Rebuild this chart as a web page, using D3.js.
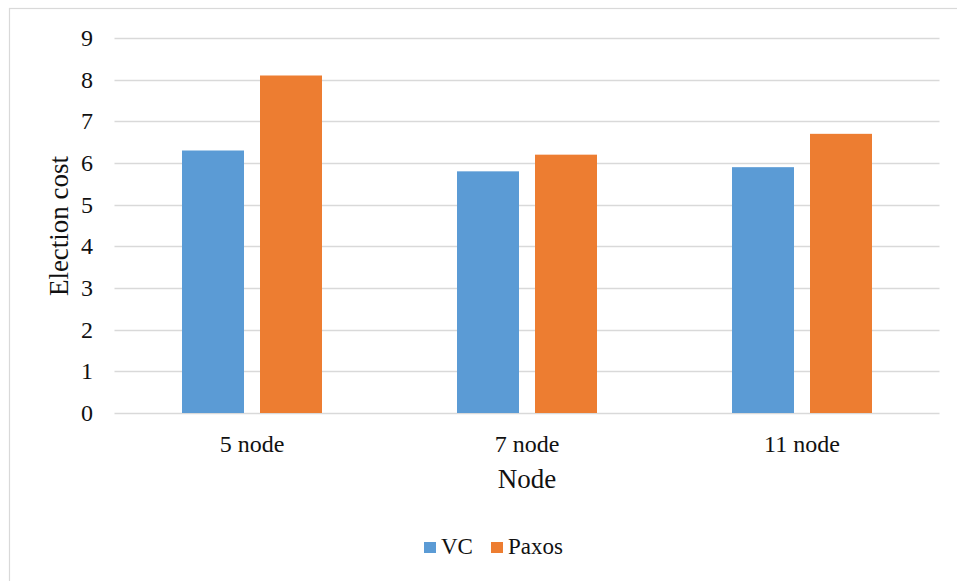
<!DOCTYPE html>
<html>
<head>
<meta charset="utf-8">
<script src="https://cdn.jsdelivr.net/npm/d3@7"></script>
<style>
  html, body { margin: 0; padding: 0; background: #fff; }
  svg { display: block; }
</style>
</head>
<body>
<svg id="chart" width="957" height="581"></svg>
<script>
const categories = ["5 node", "7 node", "11 node"];
const seriesNames = ["VC", "Paxos"];
const vcValues = [6.3, 5.8, 5.9];
const paxosValues = [8.1, 6.2, 6.7];
const yTicks = [0, 1, 2, 3, 4, 5, 6, 7, 8, 9];
const colors = ["#5b9bd5", "#ed7d31"];
const FONT = "'Liberation Serif'";

const svg = d3.select("#chart");
const margin = { left: 114.5, right: 17.5, top: 38, bottom: 168 };
const W = 957, H = 581;

// chart frame
svg.append("rect")
  .attr("x", 9.5).attr("y", 8.5)
  .attr("width", 960).attr("height", 600)
  .attr("fill", "#fff").attr("stroke", "#d9d9d9").attr("stroke-width", 1.2);

const x = d3.scaleBand().domain(categories)
  .range([margin.left, W - margin.right]);
const x1 = d3.scaleBand().domain(seriesNames)
  .range([0, 140]).paddingInner(16 / 78);
const y = d3.scaleLinear().domain([0, 9])
  .range([H - margin.bottom, margin.top]);

// gridlines
svg.append("g")
  .selectAll("line").data(yTicks).join("line")
  .attr("x1", margin.left).attr("x2", W - margin.right)
  .attr("y1", d => Math.round(y(d)) + 0.5).attr("y2", d => Math.round(y(d)) + 0.5)
  .attr("stroke", "#d9d9d9").attr("stroke-width", 1.3);

// y tick labels
svg.append("g")
  .selectAll("text").data(yTicks).join("text")
  .attr("x", 93).attr("y", d => y(d))
  .attr("dy", "0.34em").attr("text-anchor", "end")
  .style("font-family", FONT)
  .attr("font-size", 24).attr("fill", "#111")
  .text(d => d);

// bars
const rows = categories.map((c, i) => ({ cat: c, values: [vcValues[i], paxosValues[i]] }));
const groups = svg.append("g").selectAll("g").data(rows).join("g")
  .attr("transform", d => `translate(${x(d.cat) + (x.bandwidth() - 140) / 2},0)`);
groups.selectAll("rect")
  .data(d => d.values.map((v, j) => ({ name: seriesNames[j], v, j })))
  .join("rect")
  .attr("x", d => x1(d.name))
  .attr("width", x1.bandwidth())
  .attr("y", d => y(d.v))
  .attr("height", d => y(0) - y(d.v))
  .attr("fill", d => colors[d.j]);

// category labels
svg.append("g").selectAll("text").data(categories).join("text")
  .attr("x", d => x(d) + x.bandwidth() / 2)
  .attr("y", 452)
  .attr("text-anchor", "middle")
  .style("font-family", FONT)
  .attr("font-size", 24).attr("fill", "#111")
  .text(d => d);

// axis titles
svg.append("text")
  .attr("x", (margin.left + W - margin.right) / 2).attr("y", 488)
  .attr("text-anchor", "middle").attr("font-size", 27).attr("fill", "#111")
  .style("font-family", FONT)
  .text("Node");
svg.append("text")
  .attr("transform", `translate(68,226) rotate(-90)`)
  .attr("text-anchor", "middle").attr("font-size", 27).attr("fill", "#111")
  .style("font-family", FONT)
  .text("Election cost");

// legend
const legend = svg.append("g");
const legendItems = [{ name: "VC", x: 424 }, { name: "Paxos", x: 491 }];
legendItems.forEach((it, i) => {
  legend.append("rect").attr("x", it.x).attr("y", 542)
    .attr("width", 12).attr("height", 11).attr("fill", colors[i]);
  legend.append("text").attr("x", it.x + 17).attr("y", 554)
    .style("font-family", FONT)
    .attr("font-size", 23).attr("fill", "#111").text(it.name);
});
</script>
</body>
</html>
